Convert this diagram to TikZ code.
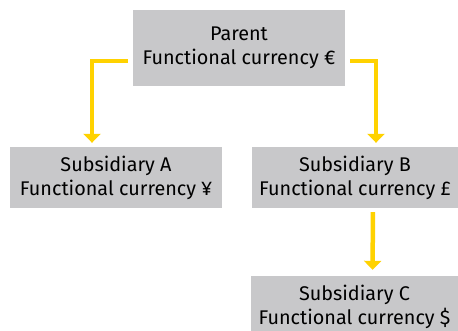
\documentclass[tikz,border=0pt]{standalone}
\usepackage{fontspec}
\setmainfont{Fira Sans}
\usepackage{xcolor}
\usetikzlibrary{positioning,arrows.meta}
\definecolor{boxgray}{HTML}{C8C8CA}
\definecolor{arrowyellow}{HTML}{FFD200}

\begin{document}
\begin{tikzpicture}[x=1pt, y=-1pt, font=\fontsize{19.8}{24}\selectfont,
  entidad/.style={fill=boxgray, align=center, inner sep=0pt, minimum height=61pt},
  flecha/.style={-{Triangle[width=17pt, length=9pt]}, draw=arrowyellow, line width=4.5pt}]
\useasboundingbox (0,0) rectangle (458,330);
\node[entidad, minimum width=212pt, minimum height=76pt] (parent) at (239,48) {Parent\\Functional currency €};
\node[entidad, minimum width=212pt] (subA) at (116,177.5) {Subsidiary A\\Functional currency ¥};
\node[entidad, minimum width=206pt] (subB) at (355,177.5) {Subsidiary B\\Functional currency £};
\node[entidad, minimum width=207pt] (subC) at (354.5,306.5) {Subsidiary C\\Functional currency \$};
\draw[flecha, shorten <=5pt, shorten >=4pt] ([yshift=-13pt]parent.west) -| ([xshift=-24pt]subA.north);
\draw[flecha, shorten <=5pt, shorten >=4pt] ([yshift=-13pt]parent.east) -| ([xshift=21pt]subB.north);
\draw[flecha, shorten <=4pt, shorten >=6pt] ([xshift=18pt]subB.south) -- ([xshift=18pt]subC.north);
\end{tikzpicture}
\end{document}
